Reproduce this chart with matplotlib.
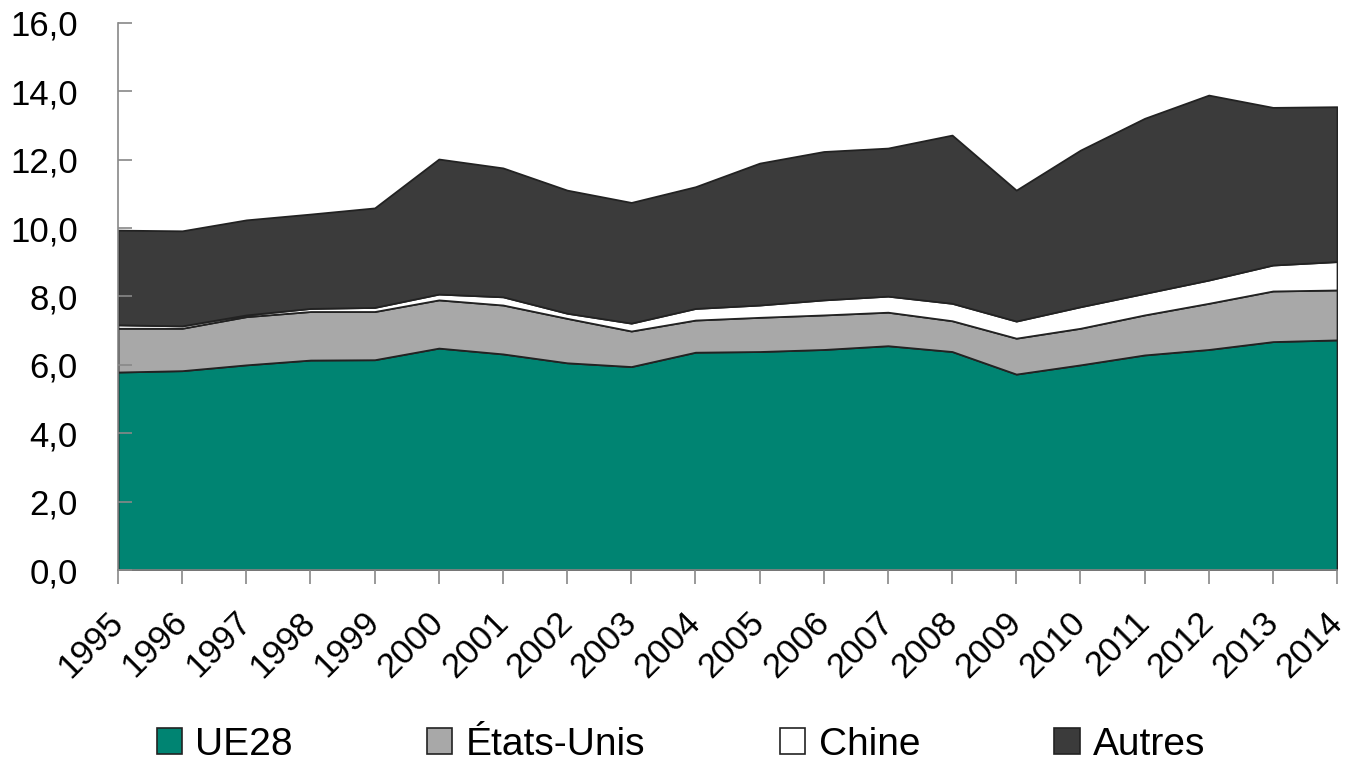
#!/usr/bin/env python
"""
stacked area chart: UE28, Etats-Unis, Chine, Autres (1995-2014)
"""

import matplotlib
matplotlib.use('Agg')
import matplotlib.pyplot as plt
from matplotlib.patches import Patch
from matplotlib.ticker import FuncFormatter

plt.rcParams['font.family'] = ['Liberation Sans', 'DejaVu Sans']

years = list(range(1995, 2015))
ue28 = [5.79, 5.83, 6.00, 6.14, 6.15, 6.49, 6.32, 6.06, 5.95, 6.37,
        6.39, 6.45, 6.56, 6.39, 5.73, 6.00, 6.29, 6.45, 6.68, 6.73]
etats_unis = [1.28, 1.24, 1.41, 1.42, 1.41, 1.41, 1.43, 1.30, 1.04, 0.94,
              1.00, 1.01, 0.98, 0.90, 1.05, 1.07, 1.17, 1.35, 1.48, 1.46]
chine = [0.10, 0.07, 0.05, 0.09, 0.12, 0.17, 0.24, 0.15, 0.23, 0.34,
         0.36, 0.44, 0.47, 0.51, 0.50, 0.63, 0.63, 0.68, 0.76, 0.83]
autres = [2.77, 2.78, 2.78, 2.76, 2.91, 3.95, 3.77, 3.60, 3.53, 3.56,
          4.15, 4.34, 4.33, 4.92, 3.83, 4.58, 5.12, 5.41, 4.61, 4.53]

labels = ['UE28', 'États-Unis', 'Chine', 'Autres']
colors = ['#008472', '#a8a8a8', '#ffffff', '#3b3b3b']

fig = plt.figure(figsize=(13.47, 7.65), dpi=100)
ax = fig.add_axes([0.0876, 0.2549, 0.905, 0.7151])

ax.stackplot(years, ue28, etats_unis, chine, autres, colors=colors,
             edgecolor='#222222', linewidth=1.3)

ax.set_xlim(1995, 2014)
ax.set_ylim(0, 16)
ax.set_yticks(range(0, 17, 2))
ax.yaxis.set_major_formatter(FuncFormatter(lambda v, p: f'{v:.1f}'.replace('.', ',')))
ax.set_xticks(years)
ax.set_xticklabels([str(y) for y in years], rotation=45, ha='right',
                   va='center', rotation_mode='anchor')

for side in ['top', 'right']:
    ax.spines[side].set_visible(False)
ax.spines['left'].set_color('#888888')
ax.spines['bottom'].set_color('#888888')
ax.spines['left'].set_linewidth(1.2)
ax.spines['bottom'].set_linewidth(1.2)
ax.tick_params(axis='y', direction='in', length=10, width=1.2, color='#888888',
               labelsize=25, pad=29)
ax.tick_params(axis='x', direction='out', length=10, width=1.2, color='#888888',
               labelsize=25, pad=24)

handles = [Patch(facecolor=c, edgecolor='#222222', linewidth=1.2) for c in colors]
fig.legend(handles, labels, loc='center', bbox_to_anchor=(0.5056, 0.026),
           ncol=4, frameon=False, fontsize=28, handlelength=0.65,
           handleheight=0.65, handletextpad=0.35, columnspacing=3.45,
           borderaxespad=0, borderpad=0)

fig.savefig('out.png', dpi=100, facecolor='w')
